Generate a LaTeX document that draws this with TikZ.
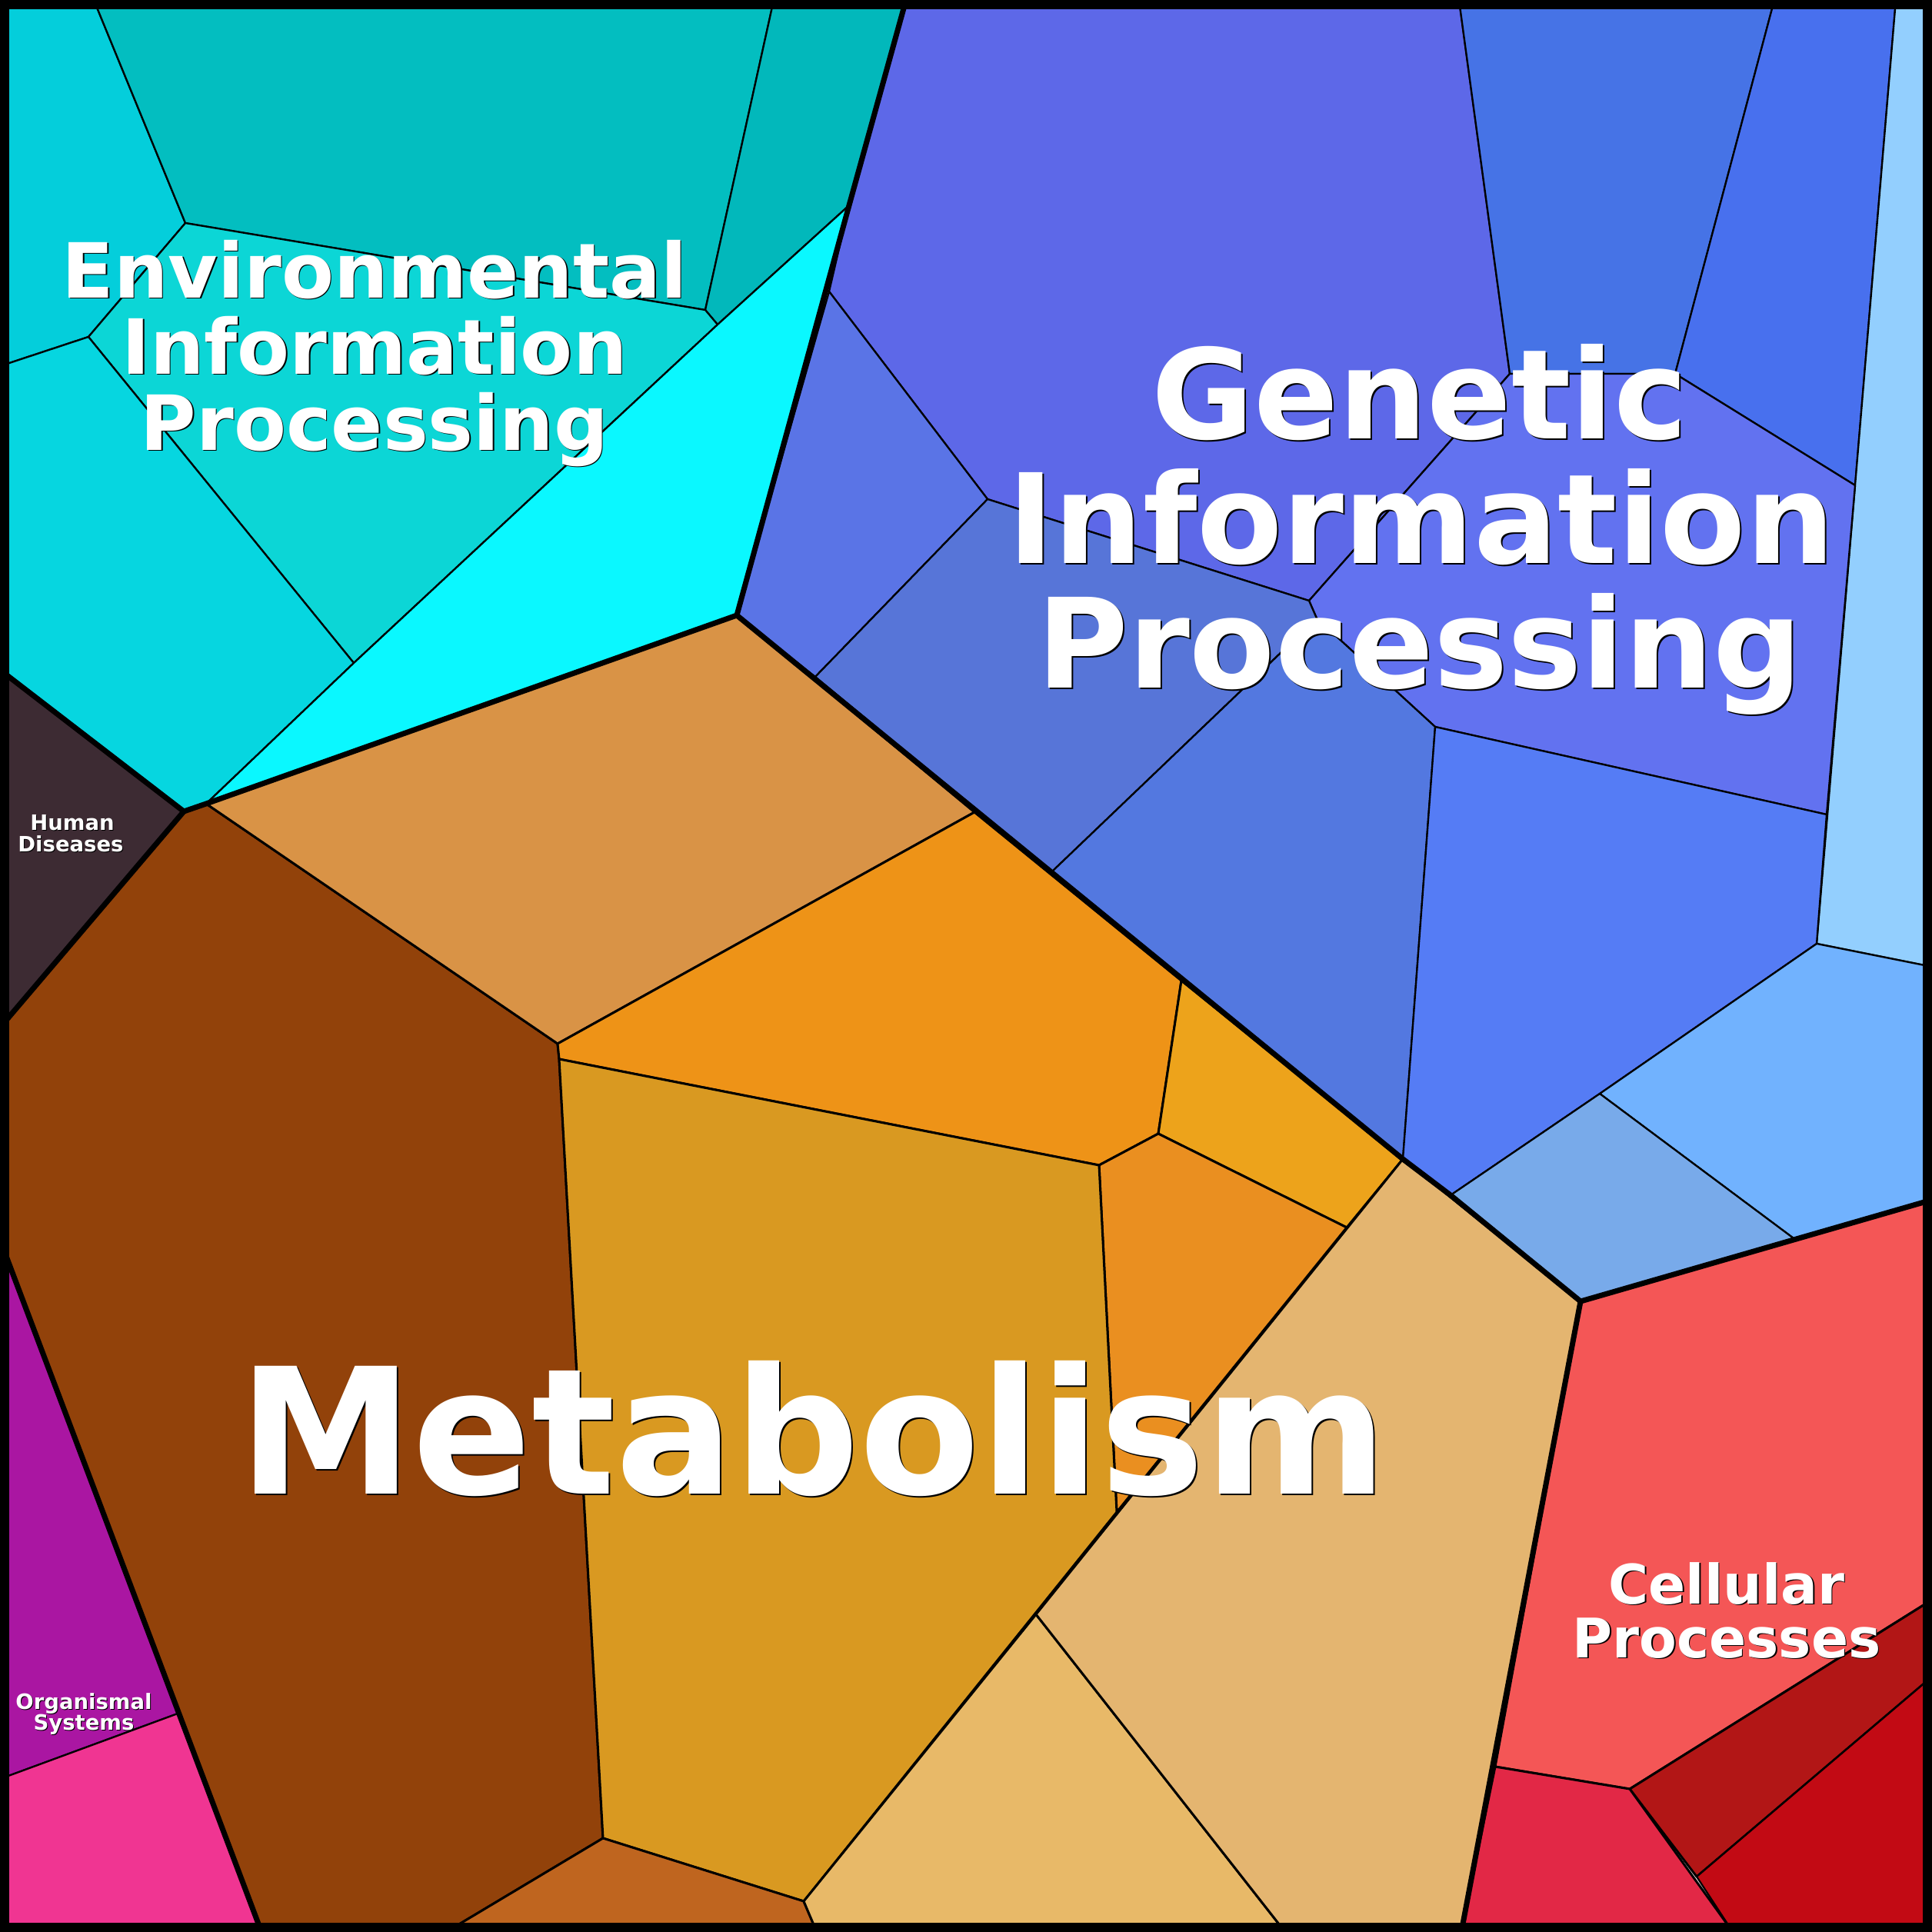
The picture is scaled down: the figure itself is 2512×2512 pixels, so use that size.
\documentclass[tikz,border=0pt]{standalone}
\usepackage{fontspec}
\setmainfont{DejaVu Sans}
\definecolor{eA}{HTML}{04CEDB}
\definecolor{eB}{HTML}{03BEC0}
\definecolor{eC}{HTML}{02B8BB}
\definecolor{eD}{HTML}{0CD6D6}
\definecolor{eE}{HTML}{06D6E0}
\definecolor{eF}{HTML}{0AF8FF}
\definecolor{hD}{HTML}{3D2B33}
\definecolor{g1}{HTML}{5D68E8}
\definecolor{g2}{HTML}{4673E6}
\definecolor{g3}{HTML}{4870EE}
\definecolor{g4}{HTML}{93CFFE}
\definecolor{g5}{HTML}{6272F0}
\definecolor{g6}{HTML}{5A74E6}
\definecolor{g7}{HTML}{5775D8}
\definecolor{g8}{HTML}{5378E0}
\definecolor{g9}{HTML}{557CF5}
\definecolor{g10}{HTML}{71B2FE}
\definecolor{g11}{HTML}{78AAEA}
\definecolor{c1}{HTML}{F45656}
\definecolor{c2}{HTML}{B21616}
\definecolor{c3}{HTML}{C20A14}
\definecolor{c4}{HTML}{E22846}
\definecolor{o1}{HTML}{AA16A2}
\definecolor{o2}{HTML}{F03592}
\definecolor{m1}{HTML}{92420A}
\definecolor{m2}{HTML}{D99346}
\definecolor{m3}{HTML}{EE9317}
\definecolor{m4}{HTML}{EDA31B}
\definecolor{m5}{HTML}{EA8F20}
\definecolor{m6}{HTML}{D99921}
\definecolor{m7}{HTML}{BF651F}
\definecolor{m8}{HTML}{E8B968}
\definecolor{m9}{HTML}{E4B570}
\newcommand\lbl[6]{% name, x, y, size, shadow offset, text
  \node[shd,font=\bfseries\fontsize{#4}{#4}\selectfont] (#1s) at (#2+#5,#3+#5) {#6};
  \node[lab,font=\bfseries\fontsize{#4}{#4}\selectfont] (#1) at (#2,#3) {#6};}
\begin{document}
\begin{tikzpicture}[x=1pt,y=-1pt,
  cell/.style={draw=black,line width=2.3pt,line join=round},
  mcell/.style={draw=black,line width=3pt,line join=round},
  grp/.style={draw=black,line width=7pt,line join=round,line cap=round},
  lab/.style={text=white,inner sep=0pt,anchor=base},
  shd/.style={text=black,inner sep=0pt,anchor=base}]
\useasboundingbox (0,0) rectangle (2512,2512);
% Environmental Information Processing
\fill[eA,cell] (0,0) -- (122,0) -- (241,290) -- (115,438) -- (0,476) -- cycle;
\fill[eB,cell] (122,0) -- (1006,0) -- (917,403) -- (241,290) -- cycle;
\fill[eC,cell] (1006,0) -- (1178,0) -- (1104,267) -- (933,422) -- (917,403) -- cycle;
\fill[eD,cell] (241,290) -- (917,403) -- (933,422) -- (460,862) -- (115,438) -- cycle;
\fill[eE,cell] (0,476) -- (115,438) -- (460,862) -- (268,1045) -- (239,1055) -- (0,871) -- cycle;
\fill[eF,cell] (1104,267) -- (958,800) -- (268,1045) -- (460,862) -- (933,422) -- cycle;
% Human Diseases
\fill[hD,cell] (0,871) -- (239,1055) -- (0,1336) -- cycle;
% Genetic Information Processing
\fill[g1,cell] (1178,0) -- (1897,0) -- (1963,486) -- (1702,781) -- (1284,649) -- (1078,379) -- (1104,267) -- cycle;
\fill[g2,cell] (1897,0) -- (2307,0) -- (2178,486) -- (1963,486) -- cycle;
\fill[g3,cell] (2307,0) -- (2465,0) -- (2412,631) -- (2178,486) -- cycle;
\fill[g4,cell] (2465,0) -- (2512,0) -- (2512,1257) -- (2362,1227) -- (2412,631) -- cycle;
\fill[g5,cell] (1963,486) -- (2178,486) -- (2412,631) -- (2375,1059) -- (1866,945) -- (1712,804) -- (1702,781) -- cycle;
\fill[g6,cell] (1078,379) -- (1284,649) -- (1060,880) -- (958,800) -- cycle;
\fill[g7,cell] (1284,649) -- (1702,781) -- (1712,804) -- (1367,1134) -- (1060,880) -- cycle;
\fill[g8,cell] (1712,804) -- (1866,945) -- (1824,1507) -- (1367,1134) -- cycle;
\fill[g9,cell] (1866,945) -- (2375,1059) -- (2362,1227) -- (2080,1422) -- (1886,1554) -- (1824,1507) -- cycle;
\fill[g10,cell] (2362,1227) -- (2512,1257) -- (2512,1560) -- (2332,1610) -- (2080,1422) -- cycle;
\fill[g11,cell] (2080,1422) -- (2332,1610) -- (2055,1692) -- (1886,1554) -- cycle;
% Cellular Processes
\fill[c1,mcell] (2055,1692) -- (2512,1560) -- (2512,2080) -- (2119,2326) -- (1944,2297) -- cycle;
\fill[c2,mcell] (2119,2326) -- (2512,2080) -- (2512,2180) -- (2206,2440) -- cycle;
\fill[c3,cell] (2206,2440) -- (2512,2180) -- (2512,2512) -- (2253,2512) -- cycle;
\fill[c4,mcell] (1944,2297) -- (2119,2326) -- (2253,2512) -- (1900,2512) -- cycle;
% Organismal Systems
\fill[o1,cell] (0,1612) -- (231,2228) -- (0,2313) -- cycle;
\fill[o2,cell] (0,2313) -- (231,2228) -- (340,2512) -- (0,2512) -- cycle;
% Metabolism
\fill[m1,mcell] (239,1055) -- (268,1045) -- (725,1357) -- (727,1377) -- (784,2390) -- (580,2512) -- (340,2512) -- (0,1612) -- (0,1336) -- cycle;
\fill[m2,mcell] (268,1045) -- (958,800) -- (1267,1056) -- (725,1357) -- cycle;
\fill[m3,mcell] (1267,1056) -- (1536,1275) -- (1506,1474) -- (1429,1515) -- (727,1377) -- (725,1357) -- cycle;
\fill[m4,mcell] (1536,1275) -- (1824,1507) -- (1751,1596) -- (1506,1474) -- cycle;
\fill[m5,mcell] (1506,1474) -- (1751,1596) -- (1452,1966) -- (1429,1515) -- cycle;
\fill[m6,mcell] (727,1377) -- (1429,1515) -- (1452,1966) -- (1045,2472) -- (784,2390) -- cycle;
\fill[m7,mcell] (784,2390) -- (1045,2472) -- (1062,2512) -- (580,2512) -- cycle;
\fill[m8,mcell] (1045,2472) -- (1347,2099) -- (1671,2512) -- (1062,2512) -- cycle;
\fill[m9,mcell] (1824,1507) -- (2055,1692) -- (1900,2512) -- (1671,2512) -- (1347,2099) -- cycle;
% group boundaries
\draw[grp] (1178,0) -- (1104,267) -- (958,800) -- (268,1045) -- (239,1055) -- (0,871);
\draw[grp] (239,1055) -- (0,1336);
\draw[grp] (958,800) -- (1367,1134) -- (1824,1507) -- (1886,1554) -- (2055,1692) -- (2512,1560);
\draw[grp] (2055,1692) -- (1900,2512);
\draw[grp] (0,1612) -- (340,2512);
% frame
\draw[black,line width=24pt] (0,0) rectangle (2512,2512);
% labels
\lbl{env1}{487}{387}{99}{1.5}{Environmental}
\lbl{env2}{487}{486}{99}{1.5}{Information}
\lbl{env3}{487}{585}{99}{1.5}{Processing}
\lbl{gen1}{1846}{570}{162}{2}{Genetic}
\lbl{gen2}{1848}{732}{162}{2}{Information}
\lbl{gen3}{1846}{894}{162}{2}{Processing}
\lbl{met}{1057}{1942}{228}{2}{Metabolism}
\lbl{cel1}{2245}{2085}{71}{1.5}{Cellular}
\lbl{cel2}{2245}{2155}{71}{1.5}{Processes}
\lbl{hum1}{94}{1079}{27.5}{1}{Human}
\lbl{hum2}{92}{1107}{27.5}{1}{Diseases}
\lbl{org1}{109}{2222}{27.5}{1}{Organismal}
\lbl{org2}{109}{2249}{27.5}{1}{Systems}
\end{tikzpicture}
\end{document}
